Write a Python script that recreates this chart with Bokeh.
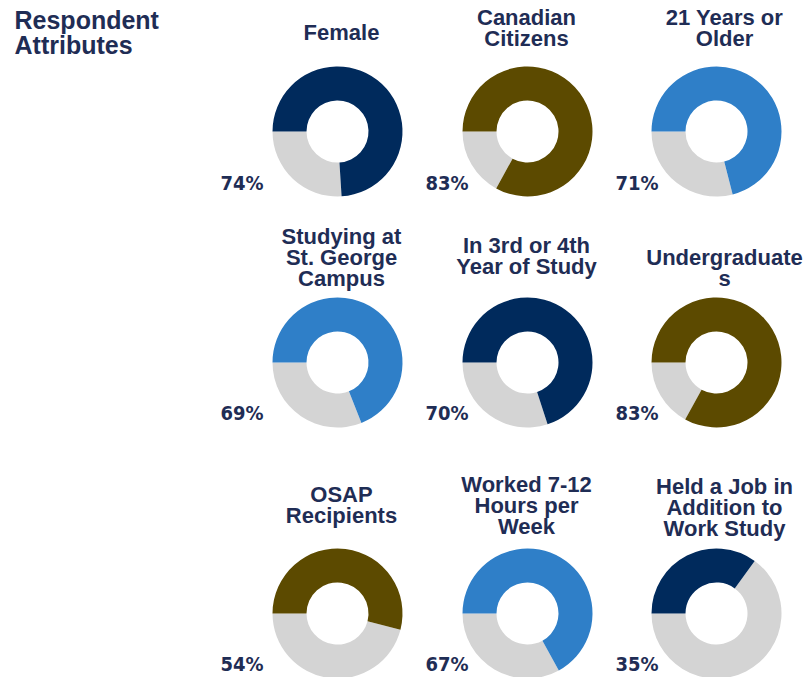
import math
from bokeh.plotting import figure
from bokeh.models import Range1d, ColumnDataSource
from bokeh.core.properties import value
from bokeh.embed import file_html
from bokeh.resources import INLINE

# ---------------- data ----------------
CATEGORIES = [
    "Female",
    "Canadian\nCitizens",
    "21 Years or\nOlder",
    "Studying at\nSt. George\nCampus",
    "In 3rd or 4th\nYear of Study",
    "Undergraduate\ns",
    "OSAP\nRecipients",
    "Worked 7-12\nHours per\nWeek",
    "Held a Job in\nAddition to\nWork Study",
]
PERCENTS = [74, 83, 71, 69, 70, 83, 54, 67, 35]
COLOR_KEYS = ["navy", "olive", "blue", "blue", "navy", "olive", "olive", "blue", "navy"]
HEADING = ["Respondent", "Attributes"]

# ---------------- style / layout ----------------
PALETTE = {"navy": "#002a5c", "olive": "#5c4a00", "blue": "#2f7fc8"}
REST = "#d4d4d4"
TEXT = "#1f2d55"
W, H = 808, 677
COL_X = [337, 527, 716]
ROW_Y = [131, 362, 613]
TITLE_X = [341, 526, 724]
TITLE_BASE = [40, 25, 25, 244, 253, 265, 502, 492, 494]
LABEL_RIGHT = [263, 468, 658]
LABEL_BASE = [190, 420, 671]
R_OUT, R_IN = 65, 31
LINE_STEP = 21
SHIFT = 8  # renderer places alphabetic baseline ~8px low

p = figure(width=W, height=H, output_backend="svg", toolbar_location=None,
           x_range=Range1d(0, W), y_range=Range1d(0, H), min_border=0)
p.axis.visible = False
p.grid.visible = False
p.outline_line_color = None
p.background_fill_color = "white"
p.border_fill_color = "white"

def ys(y):
    return H - y

def yt(y):
    return H - (y - SHIFT)

cx, cy, fill_c, ang, lab_x, lab_y, lab_t = [], [], [], [], [], [], []
tx, ty, tt = [], [], []
for i, (cat, pct, ck) in enumerate(zip(CATEGORIES, PERCENTS, COLOR_KEYS)):
    r, c = divmod(i, 3)
    x0, y0 = COL_X[c], ys(ROW_Y[r])
    cx.append(x0); cy.append(y0)
    fill_c.append(PALETTE[ck])
    ang.append(math.pi - pct / 100 * 2 * math.pi)
    lab_x.append(LABEL_RIGHT[c]); lab_y.append(yt(LABEL_BASE[r])); lab_t.append(f"{pct}%")
    for k, line in enumerate(cat.split("\n")):
        tx.append(TITLE_X[c]); ty.append(yt(TITLE_BASE[i] + k * LINE_STEP)); tt.append(line)

src = ColumnDataSource(dict(x=cx, y=cy, color=fill_c, end=ang))
p.annular_wedge(x="x", y="y", inner_radius=R_IN, outer_radius=R_OUT,
                start_angle=math.pi, end_angle="end", direction="anticlock",
                fill_color=REST, line_color=None, source=src)
p.annular_wedge(x="x", y="y", inner_radius=R_IN, outer_radius=R_OUT,
                start_angle=math.pi, end_angle="end", direction="clock",
                fill_color="color", line_color=None, source=src)

p.text(x=lab_x, y=lab_y, text=lab_t, text_align="right", text_baseline="alphabetic",
       text_font=value("DejaVu Sans Condensed"),
       text_font_style="bold", text_font_size="20px", text_color=TEXT)

p.text(x=tx, y=ty, text=tt, text_align="center", text_baseline="alphabetic",
       text_font=value("Liberation Sans"), text_font_style="bold",
       text_font_size="22px", text_color=TEXT)

p.text(x=[14, 14], y=[yt(27), yt(52)], text=HEADING, text_align="left",
       text_baseline="alphabetic", text_font=value("Liberation Sans"),
       text_font_style="bold", text_font_size="25px", text_color=TEXT)

open("out.html", "w").write(file_html(p, INLINE))
